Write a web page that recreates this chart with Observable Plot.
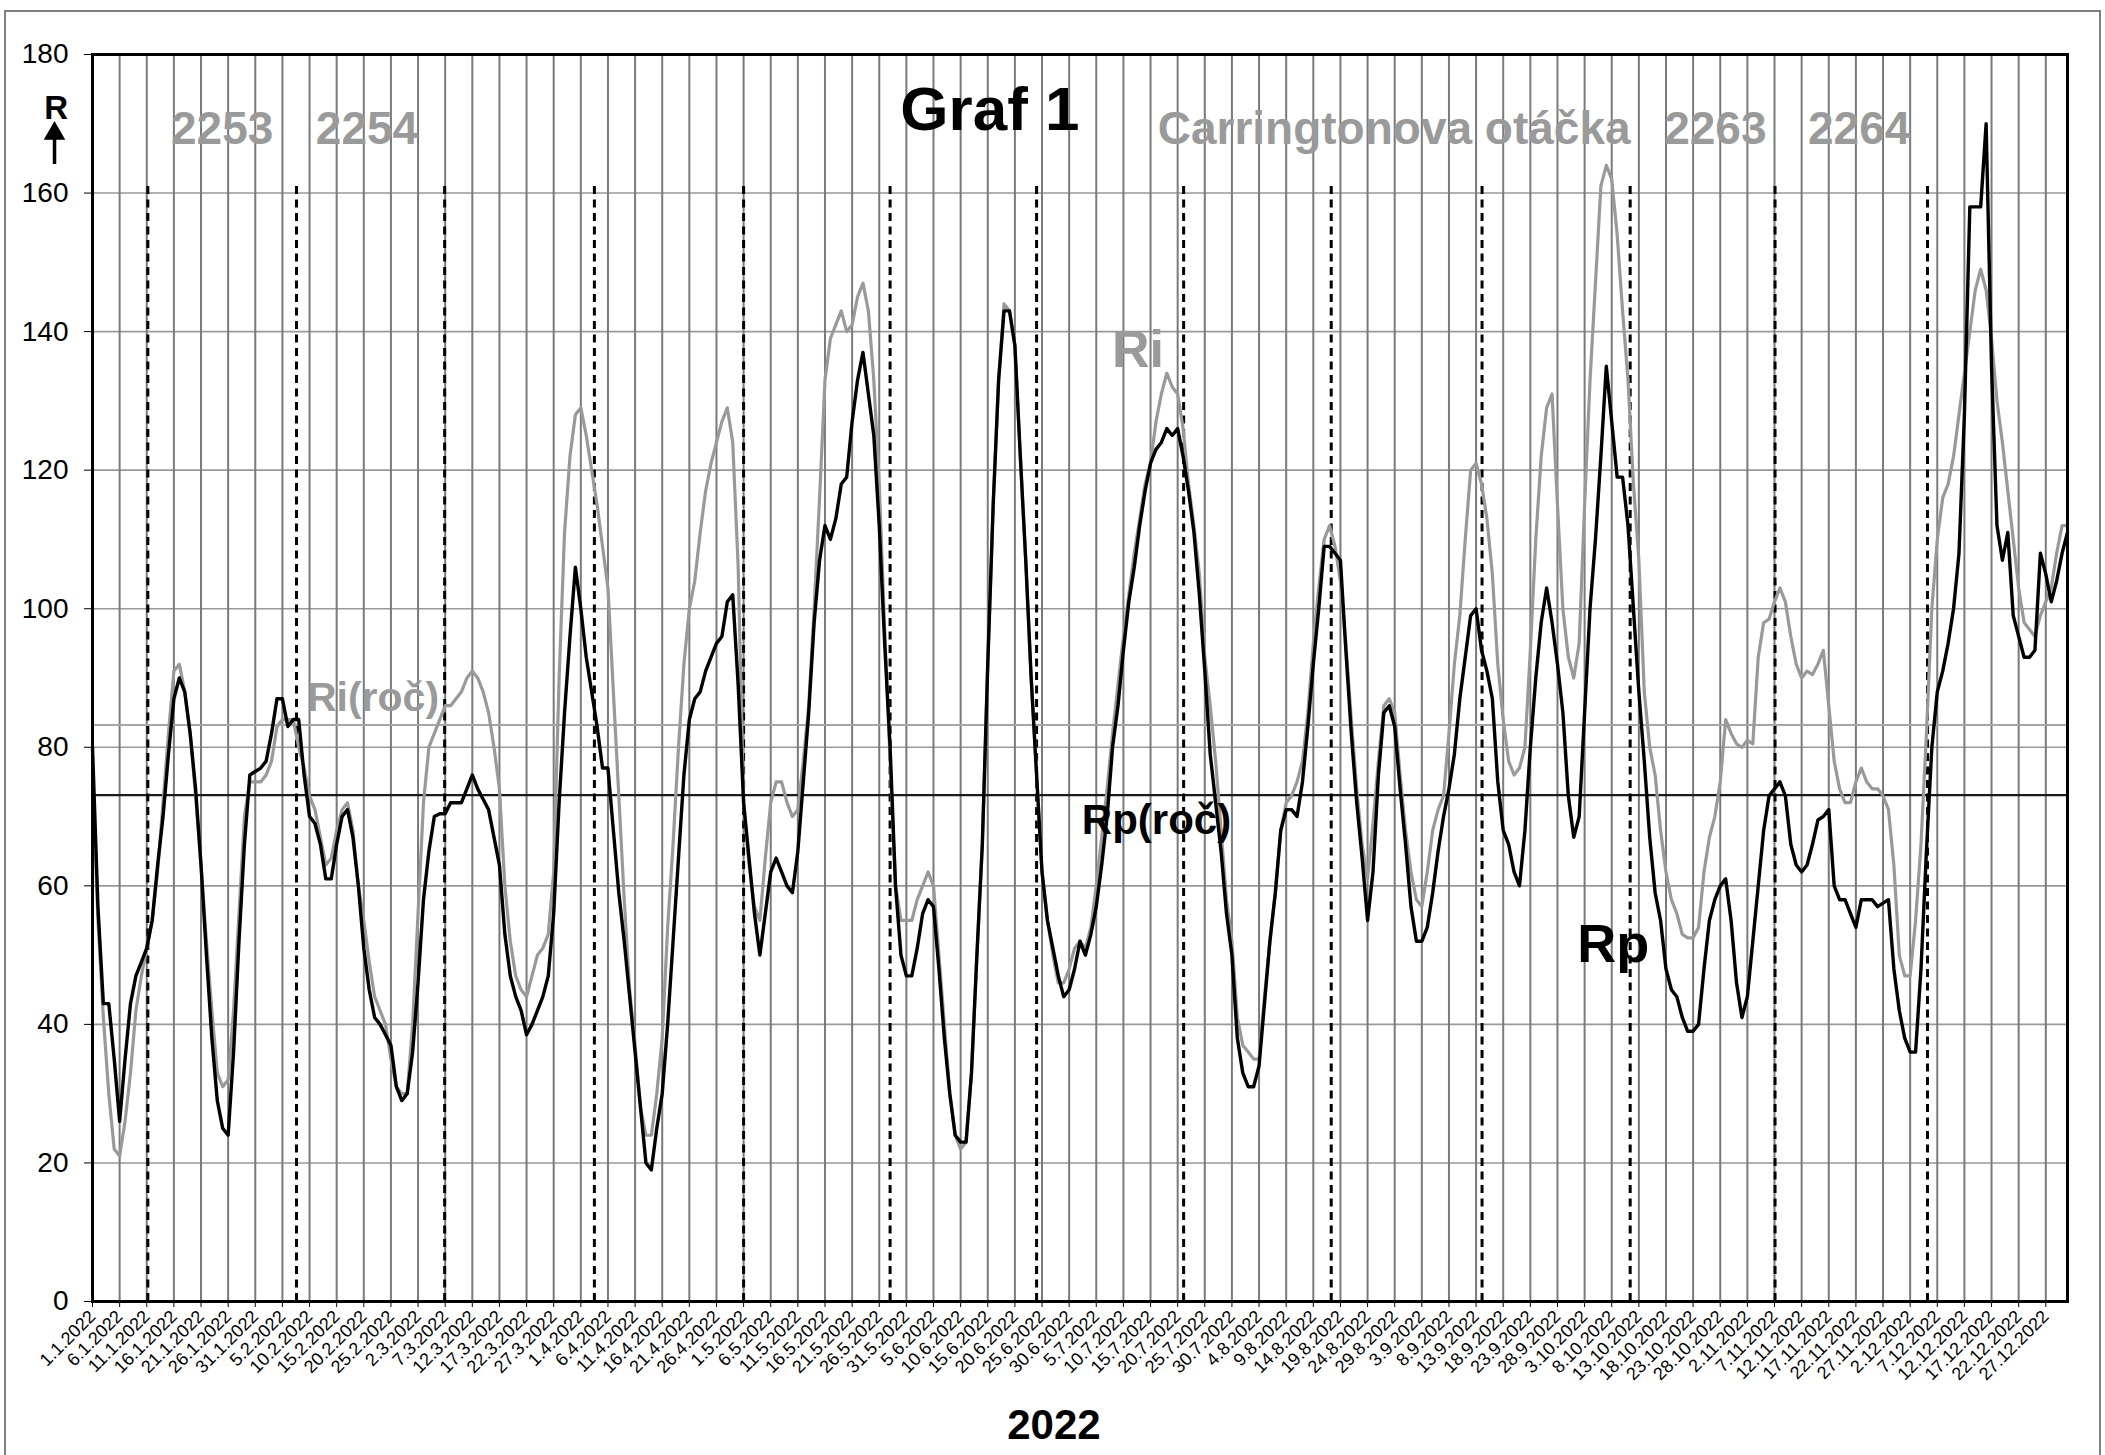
<!DOCTYPE html>
<html>
<head>
<meta charset="utf-8">
<script src="https://cdn.jsdelivr.net/npm/d3@7"></script>
<script src="https://cdn.jsdelivr.net/npm/@observablehq/plot@0.6"></script>
<style>
html, body { margin: 0; padding: 0; background: #fff; overflow: hidden; }
#wrap { position: relative; width: 2105px; height: 1455px; }
#border { position: absolute; left: 4px; top: 10px; width: 2097px; height: 1470px; border: 2px solid #808080; box-sizing: border-box; pointer-events: none; }
</style>
</head>
<body>
<div id="wrap"><div id="border"></div></div>
<script>
// ---- Data (daily values, 1.1.2022 … 31.12.2022) ----
const Rp = [
  80, 57, 43, 43, 35, 26, 35, 43, 47, 49,
  51, 55, 63, 70, 79, 87, 90, 88, 82, 74,
  63, 50, 38, 29, 25, 24, 36, 52, 66, 76,
  76.5, 77, 78, 82, 87, 87, 83, 84, 84, 76,
  70, 69, 66, 61, 61, 66, 70, 71, 67, 60,
  51, 45, 41, 40, 38.5, 37, 31, 29, 30, 36,
  46, 58, 65, 70, 70.4, 70.4, 72, 72, 72, 74,
  76, 74, 72.5, 71, 67, 63, 53, 47, 44, 42,
  38.5, 40, 42, 44, 47, 56, 72, 85, 96, 106,
  100, 93, 88, 83, 77, 77, 68, 59, 52, 44,
  36, 28, 20, 19, 25, 30, 40, 52, 64, 76,
  84, 87, 88, 91, 93, 95, 96, 101, 102, 89,
  72, 64, 56, 50, 56, 62, 64, 62, 60, 59,
  65, 75, 85, 98, 107, 112, 110, 113, 118, 119,
  127, 133, 137, 131, 125, 112, 95, 80, 60, 50,
  47, 47, 51, 56, 58, 57, 48, 38, 30, 24,
  23, 23, 33, 50, 66, 92, 115, 133, 143, 143,
  138, 122, 107, 90, 76, 62, 55, 51, 47, 44,
  45, 48, 52, 50, 53, 57, 63, 70, 80, 86,
  94, 101, 106, 112, 117, 121, 123, 124, 126, 125,
  126, 122, 117, 111, 102, 91, 79, 72, 65, 56,
  50, 38, 33, 31, 31, 34, 43, 52, 59, 68,
  71, 71, 70, 75, 83, 92, 100, 109, 109, 108,
  107, 94, 82, 72, 64, 55, 62, 76, 85, 86,
  83, 74, 66, 57, 52, 52, 54, 59, 65, 70,
  74, 79, 87, 93, 99, 100, 94, 91, 87, 75,
  68, 66, 62, 60, 68, 80, 90, 98, 103, 98,
  92, 85, 73, 67, 70, 85, 100, 110, 122, 135,
  127, 119, 119, 112, 100, 88, 78, 67, 59, 55,
  48, 45, 44, 41, 39, 39, 40, 48, 55, 58,
  60, 61, 55, 46, 41, 44, 52, 60, 68, 73,
  74, 75, 73, 66, 63, 62, 63, 66, 69.5, 70,
  71, 60, 58, 58, 56, 54, 58, 58, 58, 57,
  57.5, 58, 48, 42, 38, 36, 36, 48, 65, 80,
  88, 91, 95, 100, 108, 128, 158, 158, 158, 170,
  135, 112, 107, 111, 99, 96, 93, 93, 94, 108,
  105, 101, 104, 108, 111
];
const Ri = [
  76, 55, 41, 30, 22, 21, 26, 33, 42, 47,
  51, 55, 62, 72, 82, 91, 92, 88, 82, 73,
  63, 52, 42, 33, 31, 32, 42, 56, 70, 75,
  75, 75, 76, 78, 83, 84, 84, 84, 80, 77,
  73, 71, 67, 63, 64, 68, 71, 72, 68, 60,
  55, 49, 44, 42, 40, 35, 31, 30, 30, 40,
  56, 72, 80, 82, 84, 86, 86, 87, 88, 90,
  91, 90, 88, 85, 80, 74, 60, 52, 47, 45,
  44, 47, 50, 51, 53, 62, 90, 111, 122, 128,
  129, 125, 120, 115, 109, 103, 88, 73, 58, 45,
  37, 28, 24, 24, 30, 38, 54, 66, 80, 92,
  100, 104, 111, 117, 121, 124, 127, 129, 124, 106,
  72, 63, 57, 55, 64, 72, 75, 75, 72, 70,
  71, 78, 86, 100, 116, 133, 139, 141, 143, 140,
  141, 145, 147, 143, 133, 118, 97, 78, 60, 55,
  55, 55, 58, 60, 62, 60, 50, 40, 30, 24,
  22, 23, 33, 50, 66, 92, 115, 133, 144, 143,
  138, 122, 107, 90, 76, 62, 55, 50, 46, 46,
  48, 51, 52, 51, 54, 60, 67, 74, 82, 89,
  96, 102, 108, 113, 118, 121, 127, 131, 134, 132,
  131, 126, 118, 112, 105, 93, 86, 78, 68, 58,
  52, 41, 37, 36, 35, 35, 44, 52, 59, 68,
  72, 73, 75, 78, 85, 95, 103, 110, 112, 109,
  104, 95, 84, 74, 66, 61, 69, 78, 86, 87,
  85, 76, 68, 62, 58, 57, 62, 68, 71, 73,
  82, 92, 99, 110, 120, 121, 118, 113, 105, 92,
  84, 78, 76, 77, 80, 94, 110, 122, 129, 131,
  115, 100, 93, 90, 95, 115, 133, 147, 161, 164,
  162, 154, 143, 133, 118, 107, 88, 80, 76, 68,
  62, 58, 56, 53, 52.5, 52.5, 54, 62, 67, 70,
  75, 84, 82, 80.5, 80, 81, 80.5, 93, 98, 98.5,
  101, 103, 101, 96, 92, 90, 91, 90.5, 92, 94,
  86, 78, 74, 72, 72, 75, 77, 75, 74, 74,
  73, 71, 63, 50, 47, 47, 55, 66, 82, 100,
  110, 116, 118, 122, 128, 134, 140, 146, 149, 146,
  139, 130, 124, 117, 110, 103, 98, 97, 96, 99,
  101, 103, 108, 112, 112
];
const RpYear = 73.1;   // Rp(roč)
const RiYear = 83.2;   // Ri(roč)
// Carrington rotation starts (day of year, 0 = 1.1.2022)
const carringtonStarts = [10.2, 37.6, 64.9, 92.5, 120.0, 147.0, 174.0, 201.1, 228.3, 256.1, 283.4, 310.1, 338.2];
const tickDays = d3.range(0, 361, 5);
const yTicks = d3.range(0, 181, 20);

// ---- Build ----
const start = new Date(Date.UTC(2022, 0, 1));
const fmtDay = i => { const d = d3.utcDay.offset(start, i); return `${d.getUTCDate()}.${d.getUTCMonth() + 1}.${d.getUTCFullYear()}`; };
const table = Rp.map((v, i) => ({day: i, Rp: v, Ri: Ri[i]}));

const grayText = "#9a9a9a";
const font = "'Liberation Sans', Arial, sans-serif";

const topLabels = [
  {x: 23.9, text: "2253"},
  {x: 50.6, text: "2254"},
  {x: 239.9, text: "Carringtonova otáčka"},
  {x: 299.1, text: "2263"},
  {x: 325.6, text: "2264"}
];

const chart = Plot.plot({
  width: 2105,
  height: 1455,
  marginLeft: 92,
  marginRight: 38,
  marginTop: 54,
  marginBottom: 154,
  style: {fontFamily: font, background: "transparent", overflow: "visible"},
  x: {domain: [0, 364], axis: null},
  y: {domain: [0, 180], axis: null},
  marks: [
    Plot.ruleY(yTicks.filter(v => v > 0 && v < 180), {stroke: "#999", strokeWidth: 1.6}),
    Plot.ruleX(tickDays.filter(v => v > 0), {stroke: "#7a7a7a", strokeWidth: 2}),
    Plot.ruleY([RiYear], {stroke: "#a6a6a6", strokeWidth: 2}),
    Plot.ruleY([RpYear], {stroke: "#1a1a1a", strokeWidth: 2.2}),
    Plot.ruleX(carringtonStarts, {y1: 0, y2: 161, stroke: "#000", strokeWidth: 3, strokeDasharray: "8,5.5"}),
    Plot.line(table, {x: "day", y: "Ri", stroke: "#999", strokeWidth: 3.2}),
    Plot.line(table, {x: "day", y: "Rp", stroke: "#000", strokeWidth: 3.4}),
    Plot.frame({stroke: "#000", strokeWidth: 3}),
    Plot.axisY({ticks: yTicks, tickSize: 8, tickPadding: 16, fontSize: 28, label: null, tickFormat: d => d}),
    Plot.axisX({ticks: tickDays, tickFormat: fmtDay, tickRotate: -45, tickSize: 6, tickPadding: 6, fontSize: 18, label: null}),
    // annotations
    Plot.text(["Graf 1"], {x: 165.4, y: 171.9, text: d => d, fontSize: 62, fontWeight: "bold", fill: "#000"}),
    Plot.text(topLabels, {x: "x", y: 169.2, text: "text", fontSize: 46, fontWeight: "bold", fill: grayText}),
    Plot.text(["Ri"], {x: 192.7, y: 137.3, text: d => d, fontSize: 52, fontWeight: "bold", fill: grayText}),
    Plot.text(["Ri(roč)"], {x: 51.7, y: 87.2, text: d => d, fontSize: 41, fontWeight: "bold", fill: grayText}),
    Plot.text(["Rp(roč)"], {x: 196.1, y: 69.4, text: d => d, fontSize: 42, fontWeight: "bold", fill: "#000"}),
    Plot.text(["Rp"], {x: 280.3, y: 51.5, text: d => d, fontSize: 54, fontWeight: "bold", fill: "#000"}),
    Plot.text(["R"], {x: -6.7, y: 172.2, text: d => d, fontSize: 33, fontWeight: "bold", fill: "#000"}),
    Plot.link([0], {x1: -7.0, x2: -7.0, y1: 164.2, y2: 168.2, stroke: "#000", strokeWidth: 3.5}),
    Plot.dot([0], {x: -7.0, y: 168.6, symbol: "triangle", r: 8, fill: "#000", stroke: "none"}),
    Plot.text(["2022"], {x: 177.2, y: -17.9, text: d => d, fontSize: 42, fontWeight: "bold", fill: "#000"})
  ]
});
chart.style.position = "absolute";
chart.style.left = "0px";
chart.style.top = "0px";
document.getElementById("wrap").prepend(chart);
</script>
</body>
</html>
